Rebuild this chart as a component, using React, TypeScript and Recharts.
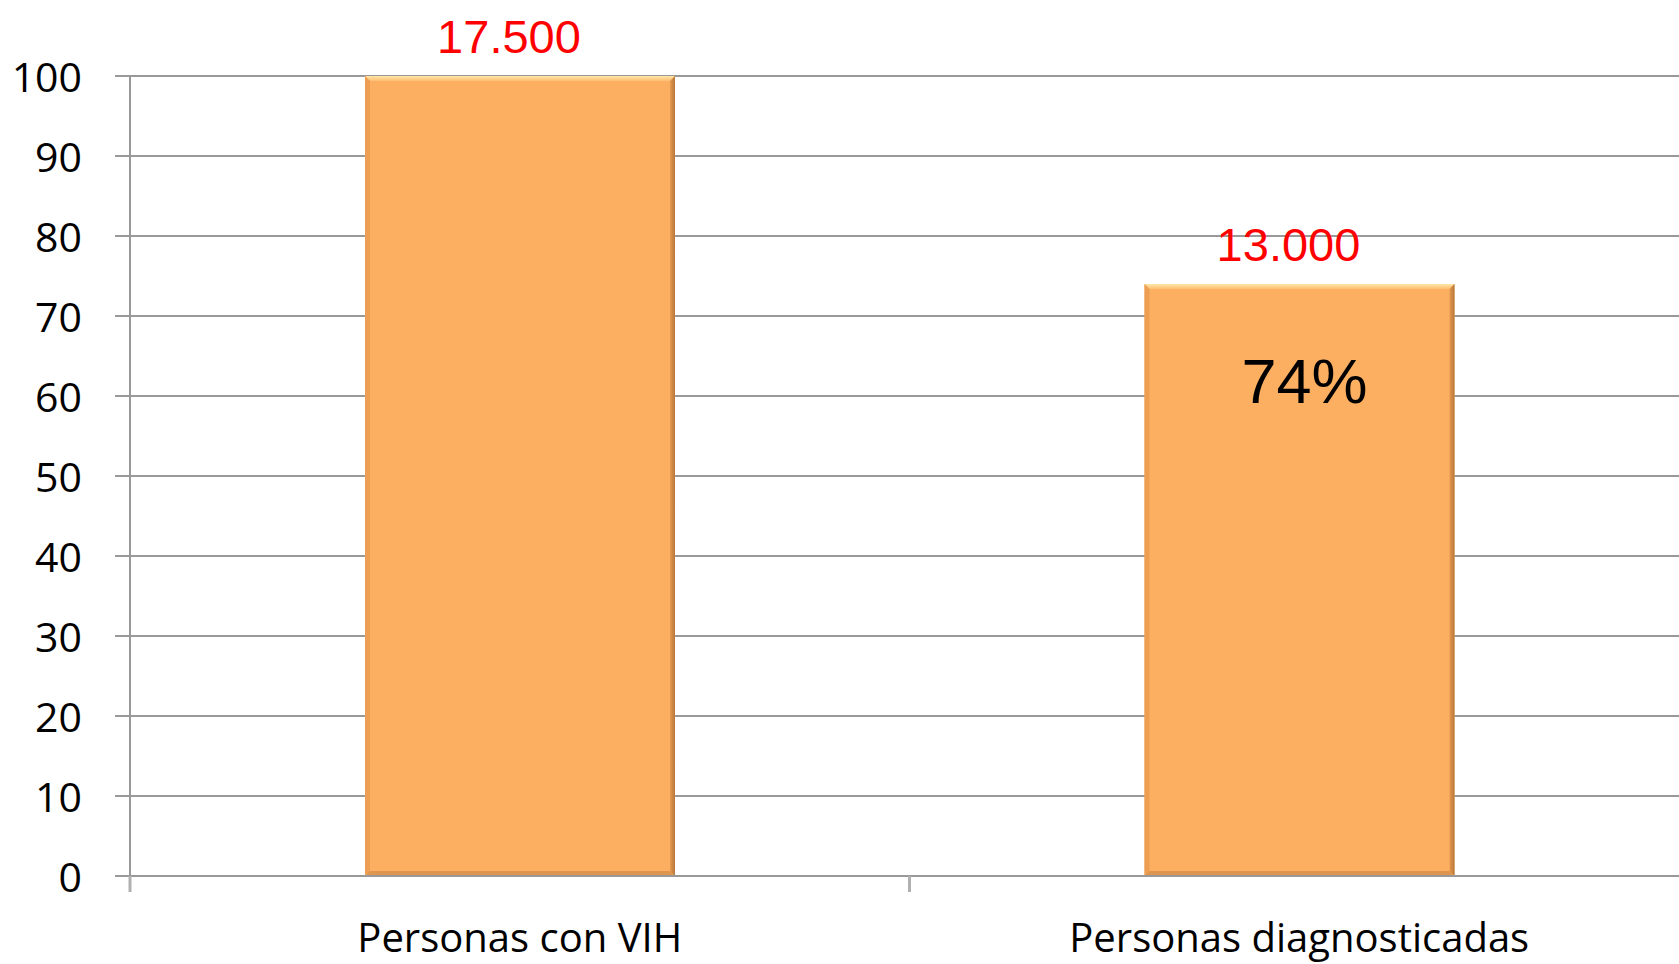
import { BarChart, Bar, XAxis, YAxis, CartesianGrid, LabelList } from "recharts";

const categories = ["Personas con VIH", "Personas diagnosticadas"];
const percentValues = [100, 74];
const countLabels = ["17.500", "13.000"];
const innerLabels = ["", "74%"];
const yTicks = [0, 10, 20, 30, 40, 50, 60, 70, 80, 90, 100];

const data = categories.map((name, i) => ({
  name,
  value: percentValues[i],
  count: countLabels[i],
  inner: innerLabels[i],
}));

const CHART_W = 1700;
const CHART_H = 964;
const Y_AXIS_W = 130;
const MARGIN = { top: 76, right: 11, bottom: 87, left: 0 };
const bandWidth = (CHART_W - Y_AXIS_W - MARGIN.left - MARGIN.right) / categories.length;

const GRID = "#999999";

function BevelBar(props: any) {
  const { x, y, width, height } = props;
  if (!height || height <= 0) return null;
  const b = 5;
  return (
    <g>
      <rect x={x} y={y} width={width} height={height} fill="#FCAF60" />
      {/* top highlight */}
      <polygon
        points={`${x},${y} ${x + width},${y} ${x + width - b},${y + b} ${x + b},${y + b}`}
        fill="url(#barTop)"
      />
      {/* right shade */}
      <polygon
        points={`${x + width},${y} ${x + width},${y + height} ${x + width - b},${y + height - b} ${x + width - b},${y + b}`}
        fill="url(#barRight)"
      />
      {/* left shade */}
      <polygon
        points={`${x},${y} ${x + b},${y + b} ${x + b},${y + height - b} ${x},${y + height}`}
        fill="#EE9E52"
      />
      {/* bottom shade */}
      <polygon
        points={`${x},${y + height} ${x + b},${y + height - b} ${x + width - b},${y + height - b} ${x + width},${y + height}`}
        fill="#DE9550"
      />
    </g>
  );
}

function YTick(props: any) {
  const { x, y, payload } = props;
  return (
    <text
      x={x - 31}
      y={y + 5}
      textAnchor="end"
      dominantBaseline="middle"
      fontFamily="'Open Sans', sans-serif"
      fontSize={41}
      fill="#000"
    >
      {payload.value}
    </text>
  );
}

function XTick(props: any) {
  const { x, y, payload } = props;
  const left = x - bandWidth / 2;
  return (
    <g>
      <line x1={left} y1={y} x2={left} y2={y + 16} stroke="#B0B0B0" strokeWidth={3} />
      <text
        x={x}
        y={y + 76}
        textAnchor="middle"
        fontFamily="'Open Sans', sans-serif"
        fontSize={40}
        fill="#000"
      >
        {payload.value}
      </text>
    </g>
  );
}

function CountLabel(props: any) {
  const { x, y, width, value } = props;
  return (
    <text
      x={x + width / 2 - 11}
      y={y - 23}
      textAnchor="middle"
      fontFamily="'Liberation Sans', Arial, sans-serif"
      fontSize={47}
      fill="#FF0000"
    >
      {value}
    </text>
  );
}

function InnerLabel(props: any) {
  const { x, y, width, value } = props;
  if (!value) return null;
  return (
    <text
      x={x + width / 2 + 5}
      y={y + 119}
      textAnchor="middle"
      fontFamily="'Liberation Sans', Arial, sans-serif"
      fontSize={63}
      fill="#000000"
    >
      {value}
    </text>
  );
}

export default function App() {
  return (
    <div
      style={{
        position: "fixed",
        left: 0,
        top: 0,
        width: 1679,
        height: 964,
        overflow: "hidden",
        background: "#fff",
      }}
    >
      <BarChart width={CHART_W} height={CHART_H} data={data} margin={MARGIN} barSize={310}>
        <defs>
          <linearGradient id="barTop" x1="0" y1="0" x2="0" y2="1">
            <stop offset="0%" stopColor="#FFE6A6" />
            <stop offset="100%" stopColor="#FDBE72" />
          </linearGradient>
          <linearGradient id="barRight" x1="0" y1="0" x2="1" y2="0">
            <stop offset="0%" stopColor="#E49A50" />
            <stop offset="100%" stopColor="#B8773A" />
          </linearGradient>
        </defs>
        <CartesianGrid vertical={false} stroke={GRID} strokeWidth={2} />
        <XAxis
          dataKey="name"
          height={1}
          axisLine={{ stroke: GRID, strokeWidth: 2 }}
          tickLine={false}
          tickSize={0}
          tickMargin={0}
          tick={<XTick />}
          interval={0}
        />
        <YAxis
          width={Y_AXIS_W}
          domain={[0, 100]}
          ticks={yTicks}
          interval={0}
          axisLine={{ stroke: GRID, strokeWidth: 2 }}
          tickLine={{ stroke: GRID, strokeWidth: 2 }}
          tickSize={15}
          tick={<YTick />}
        />
        <Bar dataKey="value" shape={<BevelBar />} isAnimationActive={false}>
          <LabelList dataKey="count" content={<CountLabel />} />
          <LabelList dataKey="inner" content={<InnerLabel />} />
        </Bar>
      </BarChart>
    </div>
  );
}
